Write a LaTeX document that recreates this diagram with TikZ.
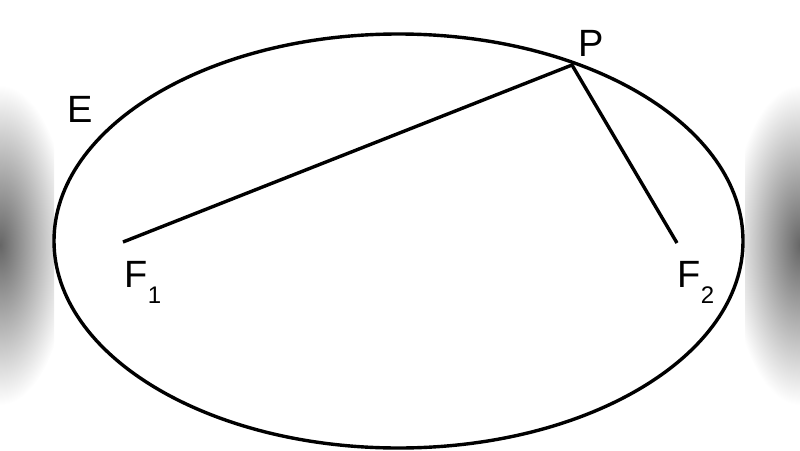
\documentclass[tikz,border=0pt]{standalone}
\usepackage{fontspec}
\setmainfont{Liberation Sans}
\usepackage{tikz}
\usetikzlibrary{positioning}

\begin{document}
\begin{tikzpicture}[x=1pt,y=-1pt,line width=3.4pt,
	lbl/.style={anchor=base west,inner sep=0pt,font=\fontsize{38}{40}\selectfont},
	band/.style={inner color=black!60,outer color=white,line width=0pt}]
	\useasboundingbox (0,0) rectangle (800,450);
	% blurred side bands
	\begin{scope}
		\clip (0,0) rectangle (54,450);
		\shade[band] (0,245) ellipse (70 and 160);
	\end{scope}
	\begin{scope}
		\clip (745,0) rectangle (800,450);
		\shade[band] (800,245) ellipse (70 and 160);
	\end{scope}
	
	\draw (398.5,241) ellipse (344.5 and 207);
	
	\coordinate (P)  at (572,65);
	\coordinate (F1) at (123,242);
	\coordinate (F2) at (677,243);
	
	\draw (F1) -- (P) -- (F2);
	
	\node[lbl] (E_lbl)  at (66,122)  {E};
	\node[lbl] (P_lbl)  at (577,56)  {P};
	\node[lbl] (F1_lbl) at (123,287) {F\raisebox{-16pt}{\fontsize{24}{24}\selectfont 1}};
	\node[lbl] (F2_lbl) at (676,287) {F\raisebox{-16pt}{\fontsize{24}{24}\selectfont 2}};
\end{tikzpicture}
\end{document}
